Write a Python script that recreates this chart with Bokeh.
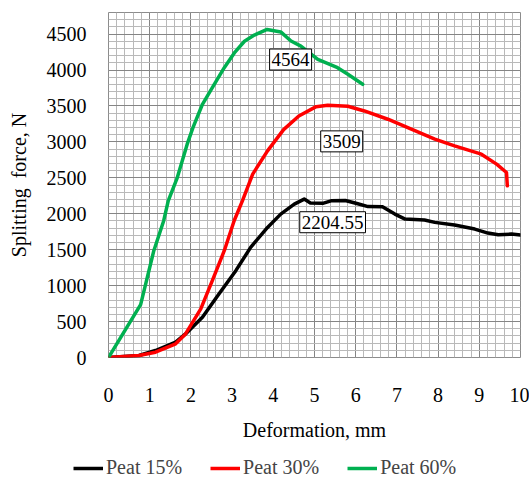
from bokeh.plotting import figure
from bokeh.models import Legend, LegendItem, Label, FixedTicker
from bokeh.embed import file_html
from bokeh.resources import INLINE

# Deformation (mm) / splitting force (N)
x15 = [0, 0.74, 1.14, 1.63, 1.87, 2.28, 2.68, 3.09, 3.45, 3.86, 4.18, 4.51, 4.75, 4.90, 5.20,
       5.40, 5.75, 6.05, 6.30, 6.65, 6.95, 7.20, 7.67, 7.92, 8.40, 8.89, 9.21, 9.46, 9.78, 10.0]
y15 = [0, 28, 97, 213, 328, 560, 884, 1208, 1532, 1810, 1995, 2134, 2204, 2150, 2145,
       2180, 2185, 2140, 2100, 2097, 1995, 1926, 1912, 1880, 1843, 1787, 1731, 1708, 1717, 1703]

x30 = [0, 0.74, 1.14, 1.63, 1.87, 2.24, 2.52, 2.81, 3.05, 3.25, 3.50, 3.86, 4.25, 4.62, 5.04,
       5.32, 5.81, 6.21, 6.78, 7.35, 7.92, 8.40, 9.05, 9.42, 9.66, 9.68]
y30 = [0, 28, 74, 190, 328, 676, 1069, 1486, 1903, 2180, 2551, 2875, 3170, 3361, 3490,
       3509, 3495, 3430, 3315, 3176, 3037, 2944, 2829, 2690, 2574, 2389]

x60 = [0, 0.78, 1.10, 1.34, 1.45, 1.67, 1.91, 2.05, 2.28, 2.52, 2.81, 3.07, 3.30, 3.54, 3.85,
       4.18, 4.43, 4.67, 5.08, 5.56, 5.81, 6.17]
y60 = [0, 736, 1486, 1903, 2180, 2504, 2968, 3199, 3523, 3754, 4032, 4250, 4400, 4486, 4564,
       4530, 4403, 4333, 4148, 4032, 3940, 3801]

series_names = ["Peat 15%", "Peat 30%", "Peat 60%"]
series_colors = ["#000000", "#ff0000", "#00b050"]

peak_labels = ["2204.55", "3509", "4564"]
peak_label_x = [5.44, 5.66, 4.42]
peak_label_y = [1882, 3007, 4146]

x_ticks = list(range(0, 11))
y_ticks = list(range(0, 5000, 500))

FONT = "Liberation Serif"

p = figure(width=529, height=446, x_range=(0, 10), y_range=(0, 4800),
           output_backend="svg", toolbar_location=None,
           min_border_left=108, min_border_right=9, min_border_top=12, min_border_bottom=89)

p.background_fill_color = "white"
p.border_fill_color = "white"
p.outline_line_color = "#8c8c8c"

p.xaxis.ticker = FixedTicker(ticks=x_ticks, minor_ticks=[i * 0.2 for i in range(51)])
p.yaxis.ticker = FixedTicker(ticks=y_ticks, minor_ticks=list(range(0, 4801, 100)))

for g in (p.xgrid, p.ygrid):
    g.grid_line_color = "#858585"
    g.grid_line_width = 1
    g.minor_grid_line_color = "#b9b9b9"
    g.minor_grid_line_width = 1

for ax in (p.xaxis, p.yaxis):
    ax.axis_line_color = None
    ax.major_tick_line_color = None
    ax.minor_tick_line_color = None
    ax.major_label_text_font = FONT
    ax.major_label_text_font_size = "20px"
    ax.major_label_text_color = "#000000"
    ax.axis_label_text_font = FONT
    ax.axis_label_text_font_size = "20px"
    ax.axis_label_text_font_style = "normal"
    ax.axis_label_text_color = "#000000"

p.xaxis.axis_label = "Deformation, mm"
p.yaxis.axis_label = "Splitting\u00a0 force, N"
p.xaxis.major_label_standoff = 24
p.xaxis.axis_label_standoff = 14
p.yaxis.major_label_standoff = 16
p.yaxis.axis_label_standoff = 14

renderers = []
for xs, ys, c in zip([x15, x30, x60], [y15, y30, y60], series_colors):
    r = p.line(xs, ys, line_color=c, line_width=3.5, line_join="round", line_cap="round")
    renderers.append(r)

for txt, lx, ly in zip(peak_labels, peak_label_x, peak_label_y):
    glow = Label(x=lx, y=ly, text=txt, text_align="center", text_baseline="middle",
                 text_font=FONT, text_font_size="19px", text_alpha=0,
                 background_fill_color="white", border_line_color="#9cc2ea",
                 border_line_width=6, border_line_alpha=0.8, padding=(2, 4))
    lab = Label(x=lx, y=ly, text=txt, text_align="center", text_baseline="middle",
                text_font=FONT, text_font_size="19px", text_color="#000000",
                background_fill_color="white", border_line_color="black",
                border_line_width=1, padding=(2, 4))
    p.add_layout(glow)
    p.add_layout(lab)

# legend strip below the chart (series drawn out of its visible range, used only as legend proxies)
pl = figure(width=529, height=42, x_range=(0, 10), y_range=(-2, -1),
            output_backend="svg", toolbar_location=None,
            min_border_left=0, min_border_right=0, min_border_top=0, min_border_bottom=0)
pl.axis.visible = False
pl.grid.visible = False
pl.outline_line_color = None
pl.background_fill_color = "white"
pl.border_fill_color = "white"
leg_renderers = [pl.line(xs, ys, line_color=c, line_width=3.5)
                 for xs, ys, c in zip([x15, x30, x60], [y15, y30, y60], series_colors)]

legend = Legend(items=[LegendItem(label=n, renderers=[r]) for n, r in zip(series_names, leg_renderers)],
                orientation="horizontal", location=(73, 9),
                label_text_font=FONT, label_text_font_size="20px",
                glyph_width=30, glyph_height=20, label_standoff=3, spacing=28,
                border_line_color=None, background_fill_alpha=0,
                padding=0, margin=0)
pl.add_layout(legend, "center")

open("out.html", "w").write(file_html([p, pl], INLINE))
